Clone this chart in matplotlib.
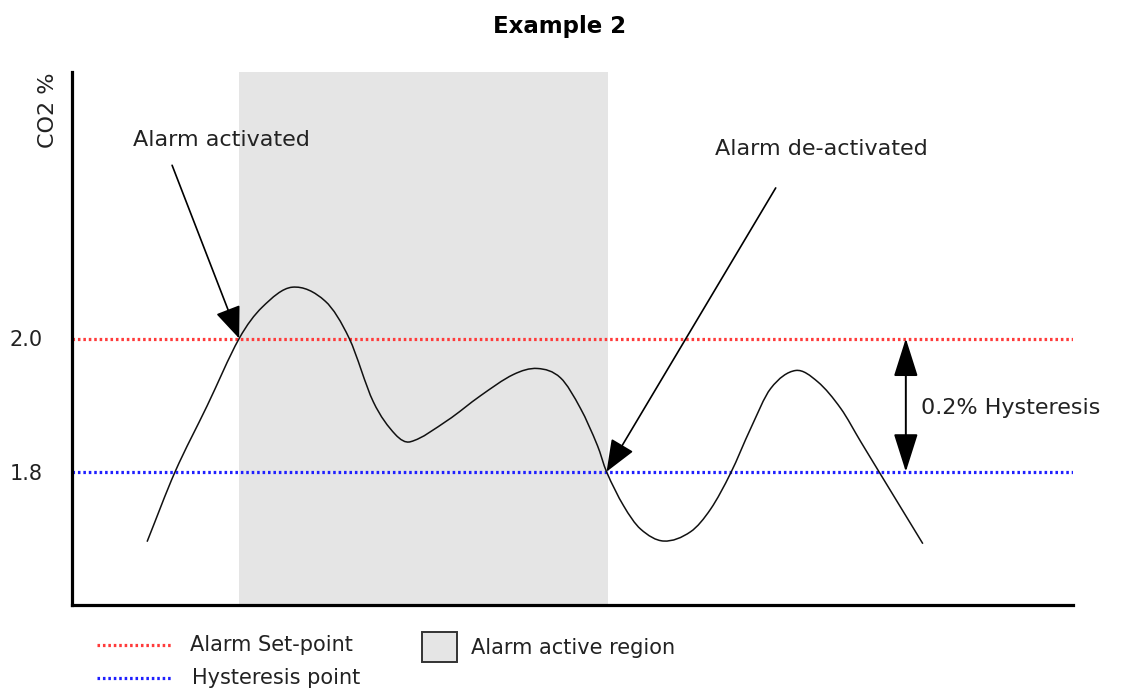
import matplotlib.pyplot as plt
from matplotlib.path import Path
from matplotlib.patches import PathPatch, Rectangle
from matplotlib.lines import Line2D

# CO2 reading over time
time = [7.5, 10.3, 13.5, 16.7, 19.0, 22.0, 25.3, 27.7, 30.1, 32.3, 33.8,
        37.5, 40.8, 44.1, 46.5, 48.8, 50.8, 52.5, 53.4,
        55.1, 56.8, 59.1, 61.8, 63.8, 65.8, 67.8, 69.8, 72.3, 74.5, 76.8, 78.8, 80.7, 85.0]
co2 = [1.695, 1.800, 1.899, 2.000, 2.047, 2.077, 2.056, 2.000, 1.905, 1.856, 1.845,
       1.877, 1.914, 1.946, 1.955, 1.941, 1.895, 1.839, 1.800,
       1.749, 1.714, 1.696, 1.710, 1.744, 1.798, 1.865, 1.925, 1.952, 1.935, 1.895, 1.845, 1.798, 1.692]

set_point = 2.0
hysteresis_point = 1.8
alarm_start = 16.7
alarm_end = 53.5
yticks = [1.8, 2.0]
ytick_labels = ["1.8", "2.0"]

W, H = 1121, 691


def fx(px):
    return px / W


def fy(py):
    return 1 - py / H


def smooth_path(xs, ys):
    # cubic hermite in x (central-difference slopes) as bezier segments
    n = len(xs)
    m = [(ys[1] - ys[0]) / (xs[1] - xs[0])]
    for i in range(1, n - 1):
        m.append((ys[i + 1] - ys[i - 1]) / (xs[i + 1] - xs[i - 1]))
    m.append((ys[-1] - ys[-2]) / (xs[-1] - xs[-2]))
    verts = [(xs[0], ys[0])]
    codes = [Path.MOVETO]
    for i in range(n - 1):
        h = xs[i + 1] - xs[i]
        verts += [(xs[i] + h / 3, ys[i] + m[i] * h / 3),
                  (xs[i + 1] - h / 3, ys[i + 1] - m[i + 1] * h / 3),
                  (xs[i + 1], ys[i + 1])]
        codes += [Path.CURVE4] * 3
    return Path(verts, codes)


plt.rcParams['font.family'] = ['DejaVu Sans']

fig = plt.figure(figsize=(W / 100, H / 100), dpi=100)
ax = fig.add_axes([fx(72), fy(605), fx(1073) - fx(72), fy(72) - fy(605)])
ax.set_xlim(0, 100)
ax.set_ylim(1.6, 2.4)

for side in ['top', 'right']:
    ax.spines[side].set_visible(False)
for side in ['left', 'bottom']:
    ax.spines[side].set_linewidth(2.3)
    ax.spines[side].set_color('black')

ax.set_xticks([])
ax.set_yticks(yticks)
ax.set_yticklabels(ytick_labels)
ax.tick_params(axis='y', length=0, pad=21, labelsize=15, labelcolor='#222222')

ax.axvspan(alarm_start, alarm_end, color='#e5e5e5', zorder=0, lw=0)

ax.axhline(set_point, color='#ff3b3b', lw=2.3, ls=(0, (0.8, 0.9)), zorder=1)
ax.axhline(hysteresis_point, color='#1f1fff', lw=2.3, ls=(0, (0.8, 0.9)), zorder=1)

ax.add_patch(PathPatch(smooth_path(time, co2), facecolor='none', edgecolor='#111111',
                       lw=1.1, zorder=3))

txt = dict(fontsize=16, color='#222222')
head = '-|>,head_length=1.0,head_width=0.4'
ax.annotate('', xy=(16.7, set_point), xytext=(10.0, 2.26),
            arrowprops=dict(arrowstyle=head, mutation_scale=20, color='black', lw=1.2,
                            shrinkA=0, shrinkB=0), zorder=4)
ax.text(6.1, 2.298, 'Alarm activated', ha='left', va='center', **txt)

ax.annotate('', xy=(53.4, hysteresis_point), xytext=(70.3, 2.226),
            arrowprops=dict(arrowstyle=head, mutation_scale=20, color='black', lw=1.2,
                            shrinkA=0, shrinkB=0), zorder=4)
ax.text(64.2, 2.284, 'Alarm de-activated', ha='left', va='center', **txt)

ax.annotate('', xy=(83.3, set_point), xytext=(83.3, hysteresis_point),
            arrowprops=dict(arrowstyle='<|-|>,head_length=1.2,head_width=0.38',
                            mutation_scale=20, color='black', lw=1.4,
                            shrinkA=0, shrinkB=0), zorder=4)
ax.text(84.8, 1.895, '0.2% Hysteresis', ha='left', va='center', **txt)

fig.text(fx(560), fy(26), 'Example 2', ha='center', va='center',
         fontsize=16.5, fontweight='bold')
fig.text(fx(48), fy(73), 'CO2 %', rotation=90, ha='center', va='top', **txt)

# legend drawn by hand to keep the original layout
fig.add_artist(Line2D([fx(97), fx(172)], [fy(645), fy(645)], color='#ff3b3b',
                      lw=2.3, ls=(0, (0.8, 0.9))))
fig.add_artist(Line2D([fx(97), fx(172)], [fy(678), fy(678)], color='#1f1fff',
                      lw=2.3, ls=(0, (0.8, 0.9))))
fig.text(fx(190), fy(645), 'Alarm Set-point', ha='left', va='center', fontsize=15, color='#222222')
fig.text(fx(192), fy(678), 'Hysteresis point', ha='left', va='center', fontsize=15, color='#222222')
fig.add_artist(Rectangle((fx(422), fy(662)), fx(457) - fx(422), fy(632) - fy(662),
                         transform=fig.transFigure, facecolor='#e5e5e5',
                         edgecolor='#333333', lw=1.4))
fig.text(fx(471), fy(648), 'Alarm active region', ha='left', va='center', fontsize=15, color='#222222')

fig.savefig('out.png', dpi=100)
